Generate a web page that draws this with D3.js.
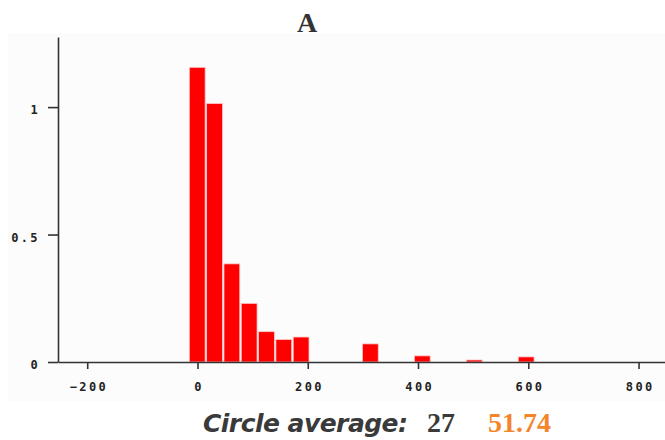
<!DOCTYPE html>
<html>
<head>
<meta charset="utf-8">
<script src="https://cdn.jsdelivr.net/npm/d3@7"></script>
<style>
  body { margin: 0; background: #fff; }
  svg { display: block; }
  .tick text { font-family: "DejaVu Sans Mono", monospace; font-size: 12px; font-weight: bold; letter-spacing: 2.4px; fill: #222; }
</style>
</head>
<body>
<svg id="chart" width="665" height="440"></svg>
<script>
// histogram bins: index of the bin (bin width below) and its density value
var binIndex = [0, 1, 2, 3, 4, 5, 6, 10, 13, 16, 19];
var binValue = [1.156, 1.014, 0.385, 0.23, 0.119, 0.088, 0.098, 0.071, 0.024, 0.008, 0.02];
var binWidth = 31.4;
var xTicks = [-200, 0, 200, 400, 600, 800];
var yTicks = [0, 0.5, 1];
var title = "A";
var footLabel = "Circle average:";
var footValues = ["27", "51.74"];

var svg = d3.select("#chart");

// faint panel behind the plot
svg.append("rect")
    .attr("x", 8).attr("y", 33)
    .attr("width", 657).attr("height", 368)
    .attr("fill", "#fcfcfc");

var x = d3.scaleLinear()
    .domain([-253, 848])
    .range([58, 665]);

var y = d3.scaleLinear()
    .domain([0, 1.275])
    .range([362, 37]);

// bars
svg.append("g")
    .selectAll("rect")
    .data(binIndex)
    .enter()
    .append("rect")
    .attr("x", function (d) { return x(d * binWidth - binWidth / 2) + 0.5; })
    .attr("width", function (d) { return x(binWidth) - x(0) - 1.5; })
    .attr("y", function (d, i) { return y(binValue[i]); })
    .attr("height", function (d, i) { return y(0) - y(binValue[i]); })
    .attr("fill", "#ff0000")
    .attr("stroke", "#ffc8c8")
    .attr("stroke-width", 0.8);

// x axis
var xAxis = svg.append("g")
    .attr("transform", "translate(0," + y(0) + ")")
    .call(d3.axisBottom(x).tickValues(xTicks).tickSize(7).tickSizeOuter(0).tickPadding(13)
        .tickFormat(d3.format("d")));
xAxis.select(".domain").attr("stroke", "#333").attr("stroke-width", 1.6);
xAxis.selectAll(".tick line").attr("stroke", "#333").attr("stroke-width", 1.6);
xAxis.selectAll(".tick text").attr("dx", "1.2px");

// y axis
var yAxis = svg.append("g")
    .attr("transform", "translate(" + x(-253) + ",0)")
    .call(d3.axisLeft(y).tickValues(yTicks).tickSize(10).tickSizeOuter(0).tickPadding(8)
        .tickFormat(function (d) { return d; }));
yAxis.select(".domain").attr("stroke", "#333").attr("stroke-width", 1.6);
yAxis.selectAll(".tick line").attr("stroke", "#333").attr("stroke-width", 1.6);
yAxis.selectAll(".tick text").attr("dy", "0.55em");

// title
svg.append("text")
    .attr("x", 307).attr("y", 32)
    .attr("text-anchor", "middle")
    .attr("font-family", "Liberation Serif, serif")
    .attr("font-weight", "bold")
    .attr("font-size", 28)
    .attr("fill", "#333")
    .text(title);

// footer
var foot = svg.append("text")
    .attr("x", 203).attr("y", 432)
    .attr("fill", "#3a3a3a");
foot.append("tspan")
    .attr("font-family", "DejaVu Sans, sans-serif")
    .attr("font-style", "italic")
    .attr("font-weight", "bold")
    .attr("font-size", 25)
    .attr("textLength", 205)
    .text(footLabel);
foot.append("tspan")
    .attr("x", 427)
    .attr("font-family", "Liberation Serif, serif")
    .attr("font-weight", "bold")
    .attr("font-size", 28)
    .text(footValues[0]);
foot.append("tspan")
    .attr("x", 488)
    .attr("font-family", "Liberation Serif, serif")
    .attr("font-weight", "bold")
    .attr("font-size", 28)
    .attr("fill", "#f5852a")
    .text(footValues[1]);
</script>
</body>
</html>
